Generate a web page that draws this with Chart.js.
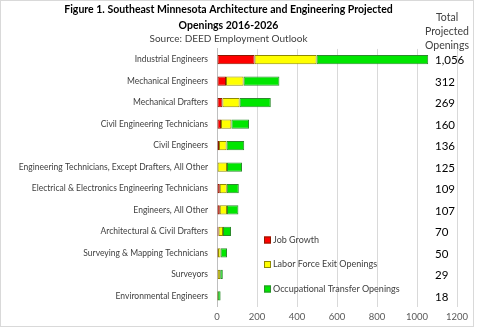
<!DOCTYPE html>
<html>
<head>
<meta charset="utf-8">
<script src="https://cdn.jsdelivr.net/npm/chart.js@4.4.1/dist/chart.umd.min.js"></script>
<style>
  html, body { margin: 0; padding: 0; background: #fff; }
  #wrap { width: 478px; height: 328px; position: relative; }
</style>
</head>
<body>
<div id="wrap"><canvas id="chart" width="478" height="328"></canvas></div>
<script>
// Southeast Minnesota A&E projected openings 2016-2026
const categories = [
    'Industrial Engineers',
    'Mechanical Engineers',
    'Mechanical Drafters',
    'Civil Engineering Technicians',
    'Civil Engineers',
    'Engineering Technicians, Except Drafters, All Other',
    'Electrical & Electronics Engineering Technicians',
    'Engineers, All Other',
    'Architectural & Civil Drafters',
    'Surveying & Mapping Technicians',
    'Surveyors',
    'Environmental Engineers'
];
const jobGrowth   = [188, 45, 27, 20, 10, 3, 14, 14, 8, 5, 4, 1];
const laborExit   = [310, 88, 86, 52, 38, 47, 35, 36, 22, 13, 12, 3];
const occTransfer = [558, 179, 156, 88, 88, 75, 60, 57, 40, 32, 13, 14];
const totals      = ['1,056', '312', '269', '160', '136', '125', '109', '107', '70', '50', '29', '18'];
const xTicks      = [0, 200, 400, 600, 800, 1000, 1200];
const totalsHeader = ['Total', 'Projected', 'Openings'];

// no Calibri here, Lato at a smaller size gets the widths closest
const FONT = 'Lato, sans-serif';

// Frame round the whole picture
const framePlugin = {
    id: 'frame',
    beforeDraw(chart) {
        const ctx = chart.ctx;
        ctx.save();
        ctx.fillStyle = '#fff';
        ctx.fillRect(0, 0, chart.width, chart.height);
        ctx.strokeStyle = '#d9d9d9';
        ctx.lineWidth = 1;
        ctx.strokeRect(0.5, 0.5, 473, 326);
        ctx.restore();
    }
};

// Totals column on the right, plus its header
const totalsPlugin = {
    id: 'totals',
    afterDatasetsDraw(chart) {
        const ctx = chart.ctx;
        const yScale = chart.scales.y;
        const x = chart.chartArea.right - 22;
        ctx.save();
        ctx.fillStyle = '#000';
        ctx.font = '11.5px ' + FONT;
        ctx.textAlign = 'left';
        ctx.textBaseline = 'middle';
        totals.forEach((t, i) => {
            ctx.fillText(t, x, yScale.getPixelForValue(i) + 1);
        });
        ctx.font = '10.5px ' + FONT;
        ctx.fillStyle = '#404040';
        ctx.textAlign = 'center';
        totalsHeader.forEach((line, i) => {
            ctx.fillText(line, x + 12, 17.5 + i * 14.3);
        });
        ctx.restore();
    }
};

// Legend drawn inside the plot area
const legendPlugin = {
    id: 'innerLegend',
    afterDraw(chart) {
        const ctx = chart.ctx;
        const left = chart.chartArea.left + 47;
        ctx.save();
        ctx.font = '9px ' + FONT;
        ctx.textAlign = 'left';
        ctx.textBaseline = 'middle';
        chart.data.datasets.forEach((ds, i) => {
            const y = 240 + i * 24.5;
            ctx.fillStyle = ds.backgroundColor;
            ctx.fillRect(left, y - 3.5, 7, 7);
            ctx.strokeStyle = ds.borderColor;
            ctx.lineWidth = 1;
            ctx.strokeRect(left + 0.5, y - 3.5 + 0.5, 6, 6);
            ctx.fillStyle = '#404040';
            ctx.fillText(ds.label, left + 9, y);
        });
        ctx.restore();
    }
};

const barStyle = { borderWidth: 1, borderSkipped: false, barPercentage: 0.43, categoryPercentage: 1 };

new Chart(document.getElementById('chart'), {
    type: 'bar',
    data: {
        labels: categories,
        datasets: [
            { label: 'Job Growth', data: jobGrowth, backgroundColor: '#ff0000', borderColor: '#8b1a00', ...barStyle },
            { label: 'Labor Force Exit Openings', data: laborExit, backgroundColor: '#ffff00', borderColor: '#8f8a00', ...barStyle },
            { label: 'Occupational Transfer Openings', data: occTransfer, backgroundColor: '#00e600', borderColor: '#2d8a2d', ...barStyle }
        ]
    },
    options: {
        indexAxis: 'y',
        responsive: false,
        animation: false,
        layout: { padding: { left: 0, right: 21, top: 0, bottom: 0 } },
        scales: {
            x: {
                stacked: true,
                min: 0,
                max: 1200,
                afterBuildTicks: (scale) => { scale.ticks = xTicks.map(v => ({ value: v })); },
                grid: { color: '#d9d9d9', drawTicks: false },
                border: { display: false },
                ticks: {
                    color: '#595959',
                    font: { family: FONT, size: 9.5 },
                    padding: 5,
                    callback: (v) => String(v)
                }
            },
            y: {
                stacked: true,
                afterFit: (scale) => { scale.width = 217; },
                grid: { display: false, drawTicks: false },
                border: { display: true, color: '#bfbfbf' },
                ticks: { color: '#404040', font: { family: FONT, size: 8.5 }, padding: 9, autoSkip: false }
            }
        },
        plugins: {
            legend: { display: false },
            tooltip: { enabled: false },
            title: {
                display: true,
                text: ['Figure 1. Southeast Minnesota Architecture and Engineering Projected', 'Openings 2016-2026'],
                color: '#000',
                font: { family: FONT, size: 10.5, weight: 'bold', lineHeight: 1.45 },
                padding: { top: 2.4, bottom: 0 }
            },
            subtitle: {
                display: true,
                text: 'Source: DEED Employment Outlook',
                color: '#404040',
                font: { family: FONT, size: 10, lineHeight: 1.25 },
                padding: { top: 0, bottom: 3.6 }
            }
        }
    },
    plugins: [framePlugin, totalsPlugin, legendPlugin]
});
</script>
</body>
</html>
